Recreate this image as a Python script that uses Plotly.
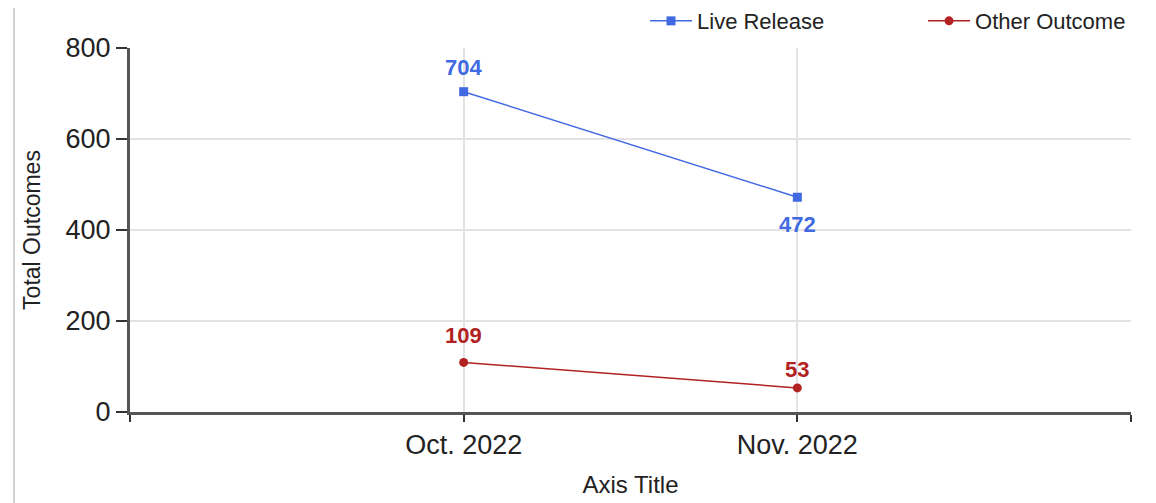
import plotly.graph_objects as go

# data
months = ["Oct. 2022", "Nov. 2022"]
month_pos = [1, 2]
live_release = [704, 472]
other_outcome = [109, 53]
# pixel offsets of the value labels from their markers
live_label_shift = [24, -27]
other_label_shift = [27, 18]

blue = "#4169E1"
red = "#B22222"
font = "Liberation Sans, Arial, sans-serif"

fig = go.Figure()
fig.add_trace(go.Scatter(
    x=month_pos, y=live_release, name="Live Release", mode="lines+markers",
    line=dict(color=blue, width=1.5), marker=dict(symbol="square", size=9, color=blue),
))
fig.add_trace(go.Scatter(
    x=month_pos, y=other_outcome, name="Other Outcome", mode="lines+markers",
    line=dict(color=red, width=1.5), marker=dict(symbol="circle", size=9, color=red),
))

# value labels
for vals, shifts, col in [(live_release, live_label_shift, blue), (other_outcome, other_label_shift, red)]:
    for x, v, s in zip(month_pos, vals, shifts):
        fig.add_annotation(x=x, y=v, text=str(v), showarrow=False, yshift=s,
                           font=dict(color=col, size=22, family=font, weight="bold"))

# thin page border on the left
fig.add_shape(type="line", xref="paper", yref="paper", x0=-0.1159, x1=-0.1159,
              y0=-0.3, y1=1.14, line=dict(color="#d4d4d4", width=2))

# the page body adds an 8px offset, so margins are shifted to compensate
fig.update_layout(
    width=1156, height=503,
    margin=dict(l=122, r=33, t=40, b=99, autoexpand=False),
    paper_bgcolor="white", plot_bgcolor="white",
    font=dict(family=font, color="#222"),
    showlegend=True,
    legend=dict(orientation="h", x=0.5145, xanchor="left", y=1.074, yanchor="middle",
                font=dict(size=22, color="#222"), itemwidth=42,
                entrywidth=221, entrywidthmode="pixels", bgcolor="rgba(0,0,0,0)"),
    xaxis=dict(
        range=[0, 3], tickvals=[0, 1, 2, 3], ticktext=["", months[0], months[1], ""],
        showgrid=True, gridcolor="#e3e3e3", gridwidth=2, zeroline=False,
        showline=True, linecolor="#555", linewidth=3,
        ticks="outside", ticklen=7, tickcolor="#333", tickwidth=2,
        tickfont=dict(size=27, family=font, color="#222"),
        title=dict(text="Axis Title", font=dict(size=24, family=font, color="#222"), standoff=17),
    ),
    yaxis=dict(
        range=[0, 800], tickvals=[0, 200, 400, 600, 800],
        showgrid=True, gridcolor="#e3e3e3", gridwidth=2, zeroline=False,
        showline=True, linecolor="#555", linewidth=3,
        ticks="outside", ticklen=11, tickcolor="#333", tickwidth=2,
        tickfont=dict(size=27, family=font, color="#222"),
        title=dict(text="Total Outcomes", font=dict(size=23, family=font, color="#222"), standoff=19),
    ),
)

fig.write_html("out.html")
